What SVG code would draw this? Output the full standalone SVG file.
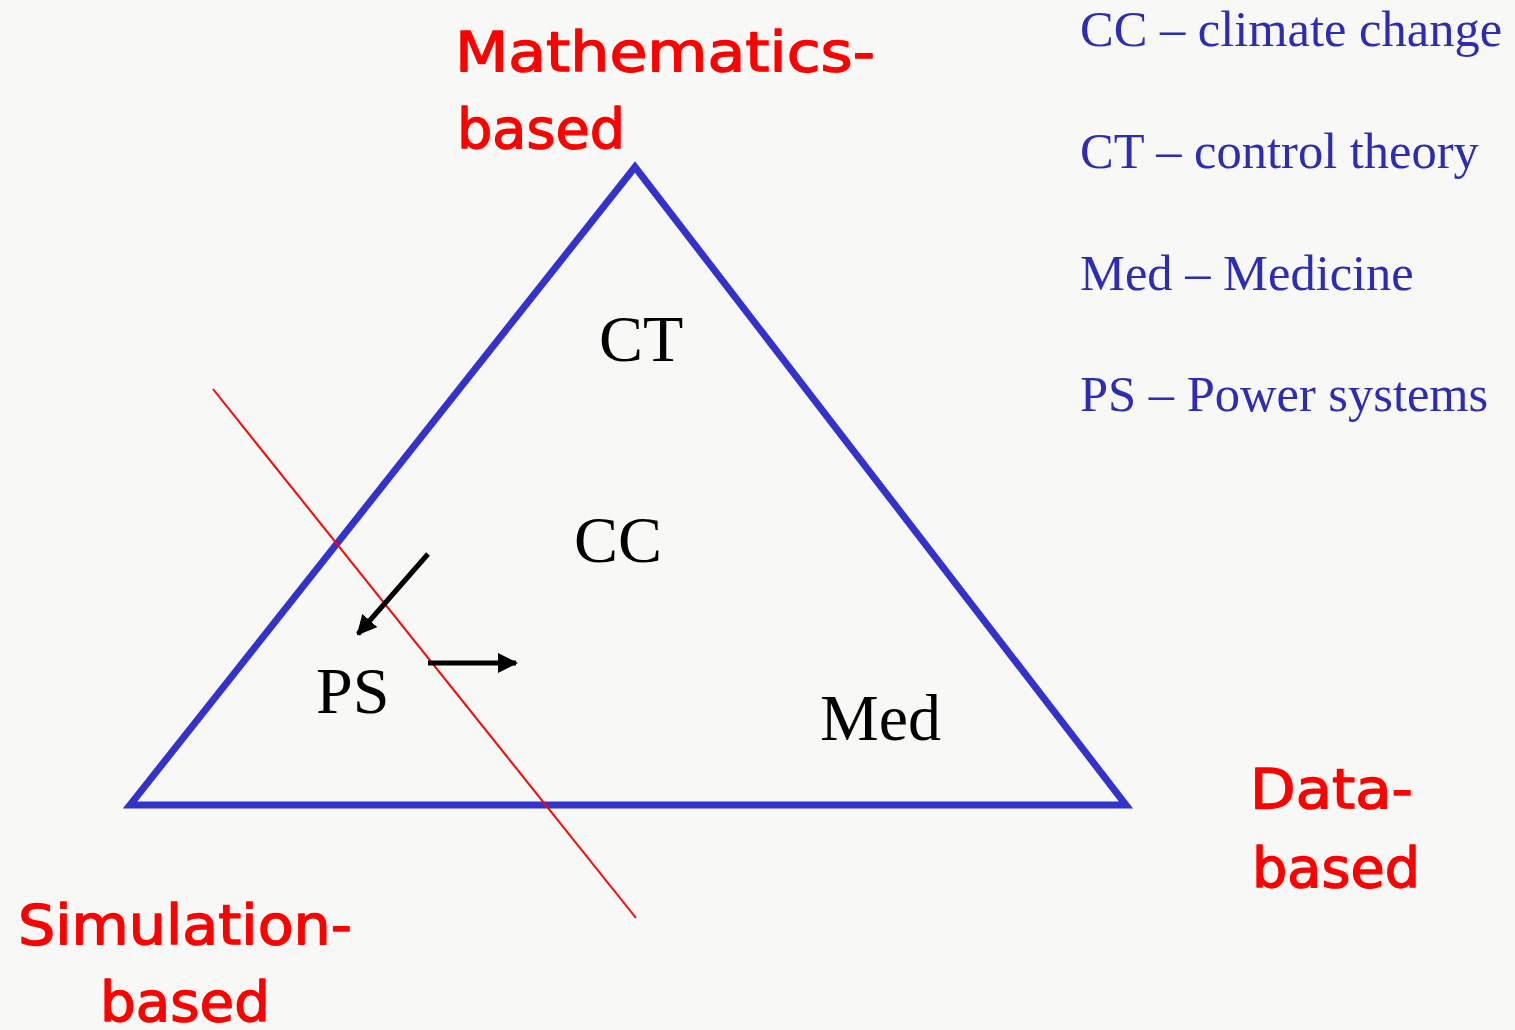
<svg xmlns="http://www.w3.org/2000/svg" width="1515" height="1030" viewBox="0 0 1515 1030">
<defs>
<style>
.red{font-family:"Comic Sans MS","DejaVu Sans",sans-serif;font-size:56px;fill:#ff0000;stroke:#ff0000;stroke-width:1.4;stroke-linejoin:round}
.lbl{font-family:"Liberation Serif","Times New Roman",serif;font-size:66px;fill:#000}
.leg{font-family:"Liberation Serif","Times New Roman",serif;font-size:50.5px;fill:#2c2cb4}
.arr{stroke:#000;stroke-width:5;fill:none}
</style>
<marker id="ah" viewBox="0 0 10 10" refX="9" refY="5" markerWidth="4" markerHeight="4" orient="auto" markerUnits="strokeWidth">
<path d="M0,0 L10,5 L0,10 z" fill="#000"/>
</marker>
</defs>
<rect width="1515" height="1030" fill="#f8f8f6"/>
<g id="triangle">
<polygon points="635,167 130,805 1126,805" fill="none" stroke="#3333cc" stroke-width="7" stroke-linejoin="miter"/>
</g>
<g id="connectors">
<line x1="213" y1="389" x2="636" y2="918" stroke="#ff0000" stroke-width="2"/>
<line class="arr" x1="428" y1="554" x2="358" y2="634" marker-end="url(#ah)"/>
<line class="arr" x1="428" y1="663" x2="516" y2="663" marker-end="url(#ah)"/>
</g>
<g id="node-CT"><text class="lbl" x="599" y="361">CT</text></g>
<g id="node-CC"><text class="lbl" x="574" y="562">CC</text></g>
<g id="node-PS"><text class="lbl" x="316" y="713">PS</text></g>
<g id="node-Med"><text class="lbl" x="820" y="740">Med</text></g>
<g id="label-math">
<text class="red" x="455" y="71" textLength="420" lengthAdjust="spacingAndGlyphs">Mathematics-</text>
<text class="red" x="457" y="148" textLength="168" lengthAdjust="spacingAndGlyphs">based</text>
</g>
<g id="label-sim">
<text class="red" x="18" y="944" textLength="334" lengthAdjust="spacingAndGlyphs">Simulation-</text>
<text class="red" x="100" y="1021" textLength="170" lengthAdjust="spacingAndGlyphs">based</text>
</g>
<g id="label-data">
<text class="red" x="1250" y="808" textLength="163" lengthAdjust="spacingAndGlyphs">Data-</text>
<text class="red" x="1252" y="887" textLength="168" lengthAdjust="spacingAndGlyphs">based</text>
</g>
<g id="legend">
<text class="leg" x="1080" y="46">CC – climate change</text>
<text class="leg" x="1080" y="168">CT – control theory</text>
<text class="leg" x="1080" y="290">Med – Medicine</text>
<text class="leg" x="1080" y="411">PS – Power systems</text>
</g>
</svg>
